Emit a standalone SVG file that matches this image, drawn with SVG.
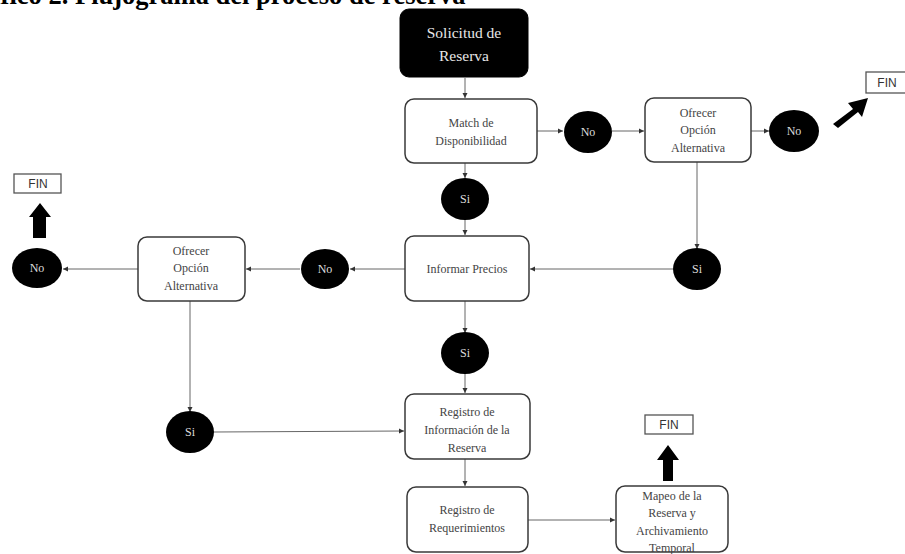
<svg xmlns="http://www.w3.org/2000/svg" width="905" height="554" viewBox="0 0 905 554">
  <style>
    .box { fill: #ffffff; stroke: #3a3a3a; stroke-width: 1.5; }
    .start { fill: #000000; stroke: #000000; }
    .dec { fill: #000000; }
    .t { font-family: "Liberation Serif", "Times New Roman", serif; font-size: 12px; fill: #444444; text-anchor: middle; }
    .tw { font-family: "Liberation Serif", "Times New Roman", serif; font-size: 12px; fill: #dddddd; text-anchor: middle; }
    .ts { font-family: "Liberation Serif", "Times New Roman", serif; font-size: 15.5px; fill: #e8e8e8; text-anchor: middle; }
    .fin { fill: #ffffff; stroke: #555555; stroke-width: 1.3; }
    .tf { font-family: "Liberation Sans", Arial, sans-serif; font-size: 12px; fill: #333333; text-anchor: middle; }
    .c { stroke: #666666; stroke-width: 1; fill: none; marker-end: url(#ah); }
    .big { fill: #000000; }
    .title { font-family: "Liberation Serif", "Times New Roman", serif; font-size: 26.5px; font-weight: bold; fill: #000000; }
  </style>
  <defs>
    <marker id="ah" markerWidth="6" markerHeight="6" refX="5" refY="3" orient="auto" markerUnits="userSpaceOnUse">
      <path d="M0,0.5 L5,3 L0,5.5 Z" fill="#333333"/>
    </marker>
  </defs>

  <text class="title" x="-45" y="4">Gráfico 2. Flujograma del proceso de reserva</text>

  <g id="connectors">
    <line class="c" x1="465" y1="78" x2="465" y2="98"/>
    <line class="c" x1="537" y1="131" x2="563" y2="131"/>
    <line class="c" x1="612" y1="131" x2="644" y2="131"/>
    <line class="c" x1="751" y1="131" x2="769" y2="131"/>
    <line class="c" x1="465" y1="163" x2="465" y2="178"/>
    <line class="c" x1="465" y1="220" x2="465" y2="235"/>
    <line class="c" x1="697" y1="162" x2="697" y2="249"/>
    <line class="c" x1="673" y1="269" x2="530" y2="269"/>
    <line class="c" x1="405" y1="269" x2="350" y2="269"/>
    <line class="c" x1="300" y1="269" x2="246" y2="269"/>
    <line class="c" x1="138" y1="269" x2="63" y2="269"/>
    <line class="c" x1="465" y1="301" x2="465" y2="333"/>
    <line class="c" x1="465" y1="374" x2="465" y2="393"/>
    <line class="c" x1="190" y1="301" x2="190" y2="412"/>
    <line class="c" x1="214" y1="432" x2="404" y2="431"/>
    <line class="c" x1="465" y1="459" x2="465" y2="486"/>
    <line class="c" x1="528" y1="520" x2="615" y2="520"/>
  </g>

  <g id="start">
    <rect class="start" x="400" y="9" width="128" height="68" rx="9"/>
    <text class="ts" x="464" y="38">Solicitud de</text>
    <text class="ts" x="464" y="61">Reserva</text>
  </g>

  <g id="match">
    <rect class="box" x="405" y="99" width="132" height="64" rx="9"/>
    <text class="t" x="471" y="127">Match de</text>
    <text class="t" x="471" y="145">Disponibilidad</text>
  </g>

  <g id="no-match">
    <ellipse class="dec" cx="588" cy="132" rx="24" ry="21"/>
    <text class="tw" x="588" y="136">No</text>
  </g>

  <g id="alt-top">
    <rect class="box" x="645" y="98" width="106" height="64" rx="9"/>
    <text class="t" x="698" y="117">Ofrecer</text>
    <text class="t" x="698" y="134">Opción</text>
    <text class="t" x="698" y="152">Alternativa</text>
  </g>

  <g id="no-alt-top">
    <ellipse class="dec" cx="794" cy="131" rx="25" ry="21"/>
    <text class="tw" x="794" y="135">No</text>
  </g>

  <g id="fin-top">
    <polygon class="big" points="833,124 853,109 848,103 868,98 862,117 858,112 838,128"/>
    <rect class="fin" x="866" y="72" width="45" height="21"/>
    <text class="tf" x="887" y="87">FIN</text>
  </g>

  <g id="si-match">
    <ellipse class="dec" cx="465" cy="199" rx="24" ry="21"/>
    <text class="tw" x="465" y="203">Si</text>
  </g>

  <g id="precios">
    <rect class="box" x="405" y="236" width="124" height="65" rx="9"/>
    <text class="t" x="467" y="273">Informar Precios</text>
  </g>

  <g id="si-alt-top">
    <ellipse class="dec" cx="697" cy="269" rx="24" ry="21"/>
    <text class="tw" x="697" y="273">Si</text>
  </g>

  <g id="no-precios">
    <ellipse class="dec" cx="325" cy="269" rx="24" ry="20"/>
    <text class="tw" x="325" y="273">No</text>
  </g>

  <g id="alt-left">
    <rect class="box" x="138" y="237" width="107" height="64" rx="9"/>
    <text class="t" x="191" y="255">Ofrecer</text>
    <text class="t" x="191" y="272">Opción</text>
    <text class="t" x="191" y="290">Alternativa</text>
  </g>

  <g id="no-alt-left">
    <ellipse class="dec" cx="37" cy="268" rx="25" ry="20"/>
    <text class="tw" x="37" y="272">No</text>
  </g>

  <g id="fin-left">
    <polygon class="big" points="33,238 33,217 29,217 40,203 51,217 46,217 46,238"/>
    <rect class="fin" x="14" y="174" width="47" height="19"/>
    <text class="tf" x="38" y="188">FIN</text>
  </g>

  <g id="si-precios">
    <ellipse class="dec" cx="465" cy="353" rx="24" ry="21"/>
    <text class="tw" x="465" y="357">Si</text>
  </g>

  <g id="si-alt-left">
    <ellipse class="dec" cx="190" cy="432" rx="24" ry="21"/>
    <text class="tw" x="190" y="436">Si</text>
  </g>

  <g id="registro-info">
    <rect class="box" x="405" y="394" width="125" height="65" rx="9"/>
    <text class="t" x="467" y="416">Registro de</text>
    <text class="t" x="467" y="434">Información de la</text>
    <text class="t" x="467" y="452">Reserva</text>
  </g>

  <g id="registro-req">
    <rect class="box" x="407" y="487" width="121" height="65" rx="9"/>
    <text class="t" x="467" y="514">Registro de</text>
    <text class="t" x="467" y="532">Requerimientos</text>
  </g>

  <g id="mapeo">
    <rect class="box" x="616" y="486" width="112" height="66" rx="9"/>
    <text class="t" x="672" y="500">Mapeo de la</text>
    <text class="t" x="672" y="517">Reserva y</text>
    <text class="t" x="672" y="535">Archivamiento</text>
    <text class="t" x="672" y="552">Temporal</text>
  </g>

  <g id="fin-bottom">
    <polygon class="big" points="663,481 663,460 657,460 668,445 679,460 673,460 673,481"/>
    <rect class="fin" x="645" y="415" width="48" height="19"/>
    <text class="tf" x="669" y="429">FIN</text>
  </g>
</svg>
